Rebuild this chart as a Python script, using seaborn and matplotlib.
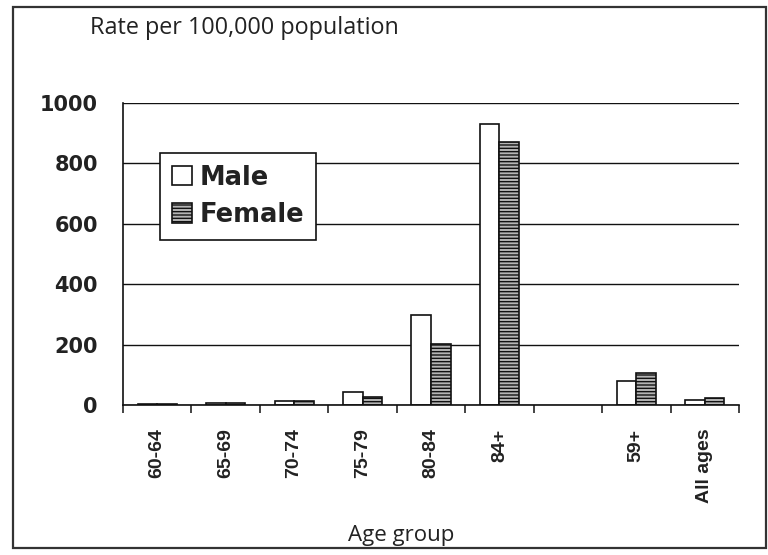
import numpy as np
import pandas as pd
import matplotlib
matplotlib.use("Agg")
import matplotlib.pyplot as plt
from matplotlib.patches import Rectangle
import seaborn as sns

# Age groups (the blank slot separates the summary groups)
age_groups = ["60-64", "65-69", "70-74", "75-79", "80-84", "84+", " ", "59+", "All ages"]
male_rates = [2, 5, 12, 42, 298, 930, None, 80, 17]
female_rates = [3, 7, 14, 26, 203, 870, None, 105, 22]
y_ticks = [0, 200, 400, 600, 800, 1000]

rows = []
for g, m, f in zip(age_groups, male_rates, female_rates):
    if m is not None:
        rows.append({"age": g, "sex": "Male", "rate": m})
    if f is not None:
        rows.append({"age": g, "sex": "Female", "rate": f})
df = pd.DataFrame(rows)

sns.set_style("white")
plt.rcParams["hatch.linewidth"] = 1.0

fig = plt.figure(figsize=(7.68, 5.55), dpi=100)
ax = fig.add_axes([123 / 768, 1 - 405 / 555, (739 - 123) / 768, (405 - 103) / 555])

sns.barplot(data=df, x="age", y="rate", hue="sex", order=age_groups,
            hue_order=["Male", "Female"], palette=["white", "#b4b4b4"],
            width=0.57, edgecolor="#111111", linewidth=1.2, errorbar=None,
            saturation=1, legend=False, ax=ax)

# horizontal shading on the female bars
for bar in ax.containers[1]:
    bar.set_hatch("-----")

ax.set_xlim(-0.5, len(age_groups) - 0.5)
ax.set_ylim(0, 1000)
ax.set_yticks(y_ticks)
ax.yaxis.grid(True, color="#111111", lw=1.0)
ax.xaxis.grid(False)
ax.set_axisbelow(True)

for s in ["top", "right"]:
    ax.spines[s].set_visible(False)
for s in ["left", "bottom"]:
    ax.spines[s].set_color("#111111")
    ax.spines[s].set_linewidth(1.2)

ax.tick_params(axis="y", direction="out", length=7, width=1.1, color="#111111",
               pad=11, labelsize=15, labelcolor="#222222")
for lab in ax.get_yticklabels():
    lab.set_fontfamily("DejaVu Sans")
    lab.set_fontweight("bold")

# category labels at the centres, tick marks at the boundaries
ax.set_xticks(range(len(age_groups)))
ax.set_xticklabels(age_groups, rotation=90, va="top", ha="center",
                   family="Liberation Sans", weight="bold")
ax.tick_params(axis="x", which="major", length=0, pad=17, labelsize=14,
               labelcolor="#222222")
ax.set_xticks(np.arange(-0.5, len(age_groups), 1), minor=True)
ax.tick_params(axis="x", which="minor", direction="out", length=6, width=1.1,
               color="#111111", bottom=True)
ax.set_xlabel("")
ax.set_ylabel("")

leg = ax.legend(handles=[ax.containers[0], ax.containers[1]],
                labels=["Male", "Female"], loc="upper left",
                bbox_to_anchor=(160 / 768, 1 - 153 / 555), bbox_transform=fig.transFigure,
                frameon=True, fancybox=False, framealpha=1, edgecolor="#111111",
                prop=dict(family="DejaVu Sans", weight="bold", size=18.5),
                handlelength=0.8, handleheight=0.8, handletextpad=0.3,
                labelspacing=0.45, borderpad=0.45, borderaxespad=0)
leg.get_frame().set_linewidth(1.2)
for t in leg.get_texts():
    t.set_color("#222222")

fig.text(90 / 768, 1 - 28 / 555, "Rate per 100,000 population", ha="left", va="center",
         family="Open Sans", fontsize=16.8, color="#222222")
fig.text(401 / 768, 1 - 535 / 555, "Age group", ha="center", va="center",
         family="Open Sans", fontsize=16, color="#222222")

# outer frame around the whole figure
fig.patches.append(Rectangle((13 / 768, 1 - 548 / 555), (766 - 13) / 768, (548 - 7) / 555,
                             transform=fig.transFigure, fill=False,
                             edgecolor="#333333", lw=1.6))

fig.savefig("out.png", dpi=100)
